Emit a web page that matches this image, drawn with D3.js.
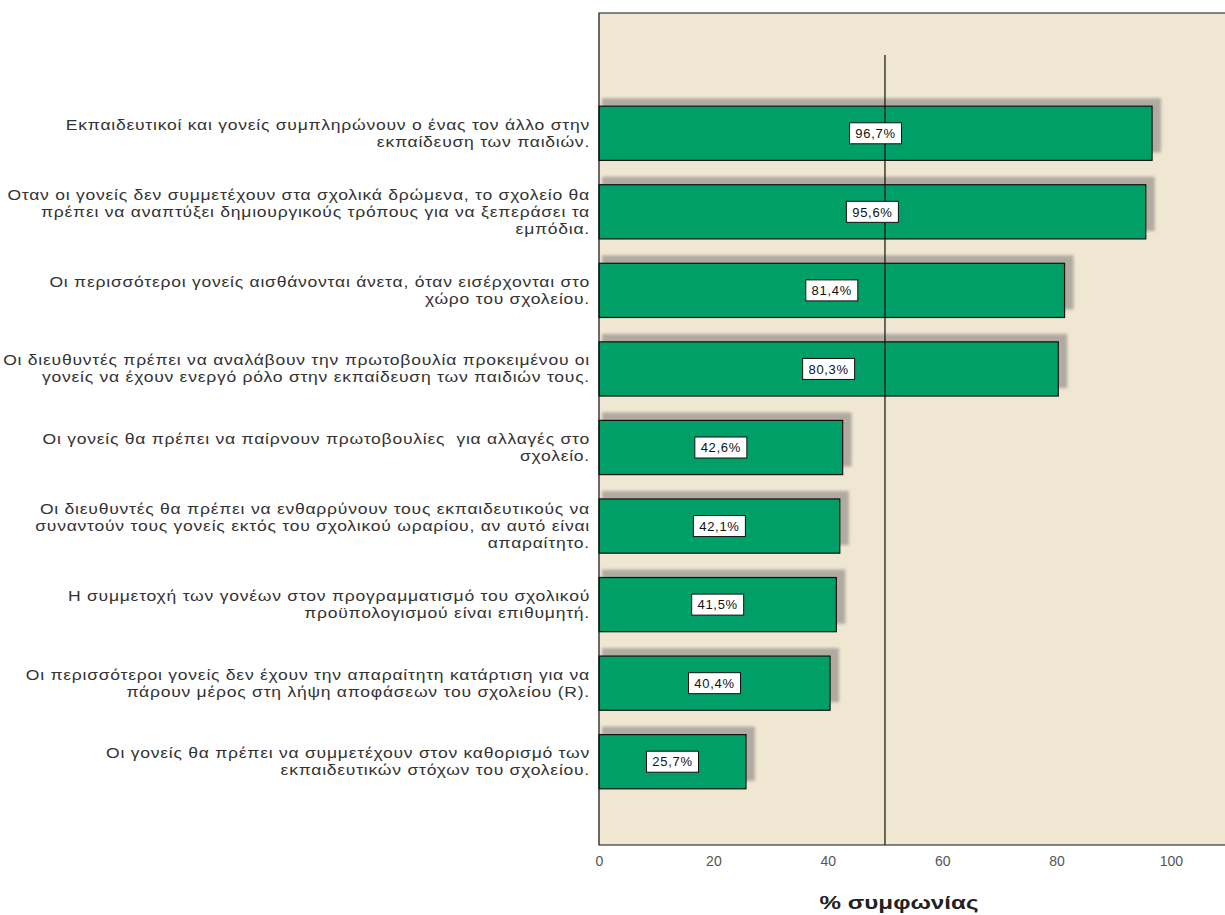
<!DOCTYPE html>
<meta charset="utf-8">
<style>
body { margin: 0; background: #fff; }
.cat { font-family: "Liberation Sans", Arial, sans-serif; font-size: 14px; letter-spacing: 0.6px; fill: #333; }
.val { font-family: "Liberation Sans", Arial, sans-serif; font-size: 13px; letter-spacing: 0.7px; fill: #111; }
.tick text { font-family: "Liberation Sans", Arial, sans-serif; font-size: 14px; fill: #555; }
.title { font-family: "Liberation Sans", Arial, sans-serif; font-size: 19px; font-weight: bold; fill: #222; }
</style>
<body>
<script src="https://d3js.org/d3.v7.min.js"></script>
<script>

    // statements (each line of the label is one entry)
    var categories = [
        ["Εκπαιδευτικοί και γονείς συμπληρώνουν ο ένας τον άλλο στην", "εκπαίδευση των παιδιών."],
        ["Οταν οι γονείς δεν συμμετέχουν στα σχολικά δρώμενα, το σχολείο θα", "πρέπει να αναπτύξει δημιουργικούς τρόπους για να ξεπεράσει τα", "εμπόδια."],
        ["Οι περισσότεροι γονείς αισθάνονται άνετα, όταν εισέρχονται στο", "χώρο του σχολείου."],
        ["Οι διευθυντές πρέπει να αναλάβουν την πρωτοβουλία προκειμένου οι", "γονείς να έχουν ενεργό ρόλο στην εκπαίδευση των παιδιών τους."],
        ["Οι γονείς θα πρέπει να παίρνουν πρωτοβουλίες  για αλλαγές στο", "σχολείο."],
        ["Οι διευθυντές θα πρέπει να ενθαρρύνουν τους εκπαιδευτικούς να", "συναντούν τους γονείς εκτός του σχολικού ωραρίου, αν αυτό είναι", "απαραίτητο."],
        ["Η συμμετοχή των γονέων στον προγραμματισμό του σχολικού", "προϋπολογισμού είναι επιθυμητή."],
        ["Οι περισσότεροι γονείς δεν έχουν την απαραίτητη κατάρτιση για να", "πάρουν μέρος στη λήψη αποφάσεων του σχολείου (R)."],
        ["Οι γονείς θα πρέπει να συμμετέχουν στον καθορισμό των", "εκπαιδευτικών στόχων του σχολείου."]
    ];
    var agreement = [96.7, 95.6, 81.4, 80.3, 42.6, 42.1, 41.5, 40.4, 25.7];
    var xTicks = [0, 20, 40, 60, 80, 100];
    var refValue = 50;

    var data = agreement.map(function (v, i) {
        return {id: i, value: v, lines: categories[i]};
    });

    var W = 1225, H = 915;
    var plot = {left: 599, right: 1227, top: 13, bottom: 845};

    var x = d3.scaleLinear().domain([0, 109.8]).range([plot.left, plot.right]);
    var y = d3.scaleBand()
        .domain(data.map(function (d) { return d.id; }))
        .range([94, 801])
        .paddingInner(0.31)
        .paddingOuter(0.155);

    var svg = d3.select("body").append("svg")
        .attr("width", W)
        .attr("height", H);

    var defs = svg.append("defs");
    defs.append("filter").attr("id", "soft")
        .attr("x", "-10%").attr("y", "-30%").attr("width", "120%").attr("height", "160%")
        .append("feGaussianBlur").attr("stdDeviation", 1.8);

    // plot background
    svg.append("rect")
        .attr("x", plot.left)
        .attr("y", plot.top)
        .attr("width", plot.right - plot.left)
        .attr("height", plot.bottom - plot.top)
        .attr("fill", "#f0e7d3");

    // bar shadows
    svg.append("g").selectAll("rect")
        .data(data)
        .enter().append("rect")
        .attr("x", x(0) + 3)
        .attr("y", function (d) { return y(d.id) - 8; })
        .attr("width", function (d) { return x(d.value) - x(0) + 6; })
        .attr("height", function (d) { return y.bandwidth(); })
        .attr("fill", "#b0aaa1")
        .attr("filter", "url(#soft)");

    // bars
    svg.append("g").selectAll("rect")
        .data(data)
        .enter().append("rect")
        .attr("x", x(0))
        .attr("y", function (d) { return y(d.id); })
        .attr("width", function (d) { return x(d.value) - x(0); })
        .attr("height", y.bandwidth())
        .attr("fill", "#009f68")
        .attr("stroke", "#111")
        .attr("stroke-width", 1.2);

    // reference line at 50%
    svg.append("line")
        .attr("x1", x(refValue)).attr("x2", x(refValue))
        .attr("y1", 55).attr("y2", plot.bottom)
        .attr("stroke", "#111")
        .attr("stroke-width", 1.2);

    // value labels
    var fmt = function (v) { return d3.format(".1f")(v).replace(".", ",") + "%"; };
    var vals = svg.append("g").selectAll("g")
        .data(data)
        .enter().append("g")
        .attr("transform", function (d) {
            return "translate(" + x(d.value / 2) + "," + (y(d.id) + y.bandwidth() / 2) + ")";
        });
    vals.append("rect")
        .attr("x", -26).attr("y", -10.5)
        .attr("width", 52).attr("height", 21)
        .attr("fill", "#fff")
        .attr("stroke", "#111")
        .attr("stroke-width", 1);
    vals.append("text")
        .attr("class", "val")
        .attr("text-anchor", "middle")
        .attr("dy", "0.36em")
        .text(function (d) { return fmt(d.value); });

    // category labels
    var lineH = 17;
    var cats = svg.append("g").selectAll("text")
        .data(data)
        .enter().append("text")
        .attr("class", "cat")
        .attr("text-anchor", "end");
    cats.selectAll("tspan")
        .data(function (d) { return d.lines; })
        .enter().append("tspan")
        .attr("x", 0)
        .attr("y", function (d, i) { return i * lineH; })
        .attr("dy", "0.35em")
        .attr("xml:space", "preserve")
        .text(function (d) { return d; });

    // the labels are set a little wider than the font: stretch so the longest line fills the margin
    var widest = d3.max(cats.selectAll("tspan").nodes(), function (n) { return n.getComputedTextLength(); });
    var sx = 587 / widest;
    cats.attr("transform", function (d) {
        var cy = y(d.id) + y.bandwidth() / 2 - (d.lines.length - 1) * lineH / 2;
        return "translate(590," + cy + ") scale(" + sx + ",1)";
    });

    // frame
    svg.append("path")
        .attr("d", "M" + plot.right + "," + plot.top + "H" + plot.left + "V" + plot.bottom + "H" + plot.right)
        .attr("fill", "none")
        .attr("stroke", "#111")
        .attr("stroke-width", 1.2);

    // x axis
    svg.append("g")
        .attr("transform", "translate(0," + plot.bottom + ")")
        .call(d3.axisBottom(x).tickValues(xTicks).tickSize(0).tickPadding(11))
        .call(function (g) { g.select(".domain").remove(); });

    var title = svg.append("text")
        .attr("class", "title")
        .attr("text-anchor", "middle")
        .text("% συμφωνίας");
    var tx = 159 / title.node().getComputedTextLength();
    title.attr("transform", "translate(899,909) scale(" + tx + ",1)");

</script>
</body>
